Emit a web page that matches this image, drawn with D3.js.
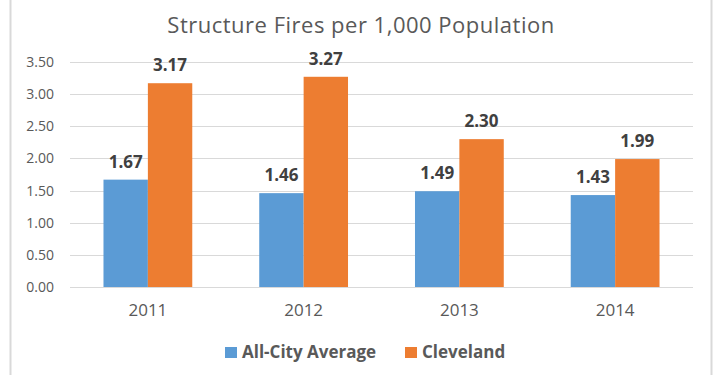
<!DOCTYPE html>
<html>
<head>
<meta charset="utf-8">
<script src="https://cdn.jsdelivr.net/npm/d3@7"></script>
<style>
  html, body { margin: 0; padding: 0; background: #fff; }
  svg { display: block; }
</style>
</head>
<body>
<svg id="chart" width="717" height="375"></svg>
<script>
const years = ["2011", "2012", "2013", "2014"];
const allCityAverage = [1.67, 1.46, 1.49, 1.43];
const cleveland = [3.17, 3.27, 2.30, 1.99];
const seriesNames = ["All-City Average", "Cleveland"];
const seriesColors = ["#5B9BD5", "#ED7D31"];
const yTicks = [0, 0.5, 1, 1.5, 2, 2.5, 3, 3.5];

const svg = d3.select("#chart");
const font = "'Open Sans', sans-serif";

// chart frame
svg.append("rect")
  .attr("x", 10.5).attr("y", -5)
  .attr("width", 701).attr("height", 390)
  .attr("fill", "#fff").attr("stroke", "#d9d9d9").attr("stroke-width", 2);

const plot = { left: 70, right: 693, top: 62, bottom: 287 };

const x = d3.scaleBand().domain(years)
  .range([plot.left, plot.right])
  .paddingInner(0.43).paddingOuter(0.215);
const xs = d3.scaleBand().domain(seriesNames).range([0, x.bandwidth()]);
const y = d3.scaleLinear().domain([0, 3.5]).range([plot.bottom, plot.top]);

// title
svg.append("text")
  .attr("x", 361).attr("y", 33)
  .attr("text-anchor", "middle")
  .attr("font-family", font).attr("font-size", 22)
  .attr("letter-spacing", 0.5)
  .attr("fill", "#595959")
  .text("Structure Fires per 1,000 Population");

// gridlines
svg.append("g")
  .selectAll("line").data(yTicks).join("line")
  .attr("x1", plot.left).attr("x2", plot.right)
  .attr("y1", d => Math.round(y(d)) + 0.5).attr("y2", d => Math.round(y(d)) + 0.5)
  .attr("stroke", "#d9d9d9").attr("stroke-width", 1);

// y axis labels
const yAxis = d3.axisLeft(y).tickValues(yTicks).tickFormat(d3.format(".2f")).tickSize(0).tickPadding(16);
const gy = svg.append("g").attr("transform", `translate(${plot.left},0)`).call(yAxis);
gy.select(".domain").remove();
gy.selectAll("text").attr("font-family", font).attr("font-size", 14).attr("fill", "#595959");

// x axis labels
const xAxis = d3.axisBottom(x).tickSize(0).tickPadding(17);
const gx = svg.append("g").attr("transform", `translate(0,${plot.bottom})`).call(xAxis);
gx.select(".domain").remove();
gx.selectAll("text").attr("font-family", font).attr("font-size", 17).attr("fill", "#595959");

// bars
const rows = years.map((yr, i) => ({ year: yr, values: [allCityAverage[i], cleveland[i]] }));
const groups = svg.append("g").selectAll("g").data(rows).join("g")
  .attr("transform", d => `translate(${x(d.year)},0)`);

groups.selectAll("rect")
  .data(d => d.values.map((v, j) => ({ name: seriesNames[j], value: v, color: seriesColors[j] })))
  .join("rect")
  .attr("x", d => xs(d.name))
  .attr("y", d => y(d.value))
  .attr("width", xs.bandwidth())
  .attr("height", d => y(0) - y(d.value))
  .attr("fill", d => d.color);

groups.selectAll("text.val")
  .data(d => d.values.map((v, j) => ({ name: seriesNames[j], value: v })))
  .join("text")
  .attr("class", "val")
  .attr("x", d => xs(d.name) + xs.bandwidth() / 2)
  .attr("y", d => y(d.value) - 12)
  .attr("text-anchor", "middle")
  .attr("font-family", font).attr("font-size", 17).attr("font-weight", "bold")
  .attr("fill", "#404040")
  .text(d => d3.format(".2f")(d.value));

// legend
const legendItems = [
  { name: seriesNames[0], color: seriesColors[0], x: 225 },
  { name: seriesNames[1], color: seriesColors[1], x: 405 }
];
const lg = svg.append("g").selectAll("g").data(legendItems).join("g")
  .attr("transform", d => `translate(${d.x},346)`);
lg.append("rect").attr("y", 1).attr("width", 12).attr("height", 11).attr("fill", d => d.color);
lg.append("text")
  .attr("x", 17).attr("y", 12)
  .attr("font-family", font).attr("font-size", 17).attr("font-weight", "bold")
  .attr("fill", "#595959")
  .text(d => d.name);
</script>
</body>
</html>
